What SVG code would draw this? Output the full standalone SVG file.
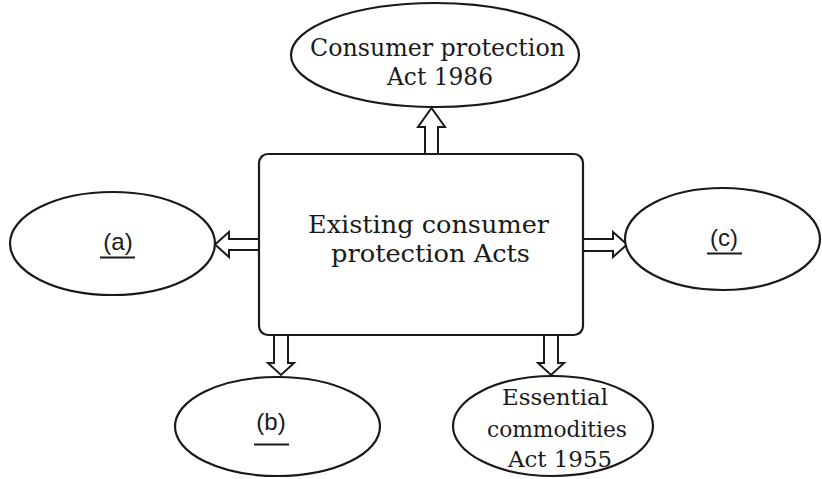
<svg xmlns="http://www.w3.org/2000/svg" width="822" height="479" viewBox="0 0 822 479">
<style>
.shape{fill:#fff;stroke:#1a1a1a;stroke-width:2.2}
.arrow{fill:#fff;stroke:#1a1a1a;stroke-width:2}
.serif{font-family:"DejaVu Serif","Liberation Serif",serif;fill:#1a1a1a;text-anchor:middle}
.sans{font-family:"Liberation Sans",Arial,sans-serif;font-size:24px;fill:#1a1a1a;text-anchor:middle}
.ul{stroke:#1a1a1a;stroke-width:2}
</style>
<rect width="822" height="479" fill="#fff"/>
<g id="connectors">
<polygon class="arrow" points="425,155 425,127 418,127 431.5,108 445,127 438,127 438,155"/>
<polygon class="arrow" points="259,239 229,239 229,232 215,244.5 229,257 229,250 259,250"/>
<polygon class="arrow" points="583,239 613,239 613,232 627,244.5 613,257 613,251 583,251"/>
<polygon class="arrow" points="274,335 274,363 268,363 281,375 294,363 288,363 288,335"/>
<polygon class="arrow" points="544,335 544,363 538,363 551,375 564,363 558,363 558,335"/>
</g>
<g id="center">
<rect class="shape" x="259" y="154" width="324" height="181" rx="9"/>
<text class="serif" font-size="25" x="428.5" y="233" textLength="241" lengthAdjust="spacingAndGlyphs">Existing consumer</text>
<text class="serif" font-size="25" x="430.5" y="262" textLength="199" lengthAdjust="spacingAndGlyphs">protection Acts</text>
</g>
<g id="top">
<ellipse class="shape" cx="435" cy="55" rx="144" ry="52"/>
<text class="serif" font-size="25" x="437.5" y="56" textLength="255" lengthAdjust="spacingAndGlyphs">Consumer protection</text>
<text class="serif" font-size="25" x="440" y="85" textLength="106" lengthAdjust="spacingAndGlyphs">Act 1986</text>
</g>
<g id="a">
<ellipse class="shape" cx="112.5" cy="243.5" rx="102.5" ry="51.5"/>
<text class="sans" x="118" y="250">(a)</text>
<line class="ul" x1="100" y1="257.5" x2="135" y2="257.5"/>
</g>
<g id="c">
<ellipse class="shape" cx="722.5" cy="239" rx="97.5" ry="51"/>
<text class="sans" x="724" y="246">(c)</text>
<line class="ul" x1="707" y1="253.5" x2="742" y2="253.5"/>
</g>
<g id="b">
<ellipse class="shape" cx="277.5" cy="426.5" rx="102.5" ry="49.5"/>
<text class="sans" x="271" y="430">(b)</text>
<line class="ul" x1="254" y1="444.5" x2="289" y2="444.5"/>
</g>
<g id="essential">
<ellipse class="shape" cx="553" cy="426" rx="100" ry="50"/>
<text class="serif" font-size="22" x="555" y="405" textLength="106" lengthAdjust="spacingAndGlyphs">Essential</text>
<text class="serif" font-size="22" x="557" y="437" textLength="140" lengthAdjust="spacingAndGlyphs">commodities</text>
<text class="serif" font-size="22" x="560" y="467" textLength="104" lengthAdjust="spacingAndGlyphs">Act 1955</text>
</g>
</svg>
